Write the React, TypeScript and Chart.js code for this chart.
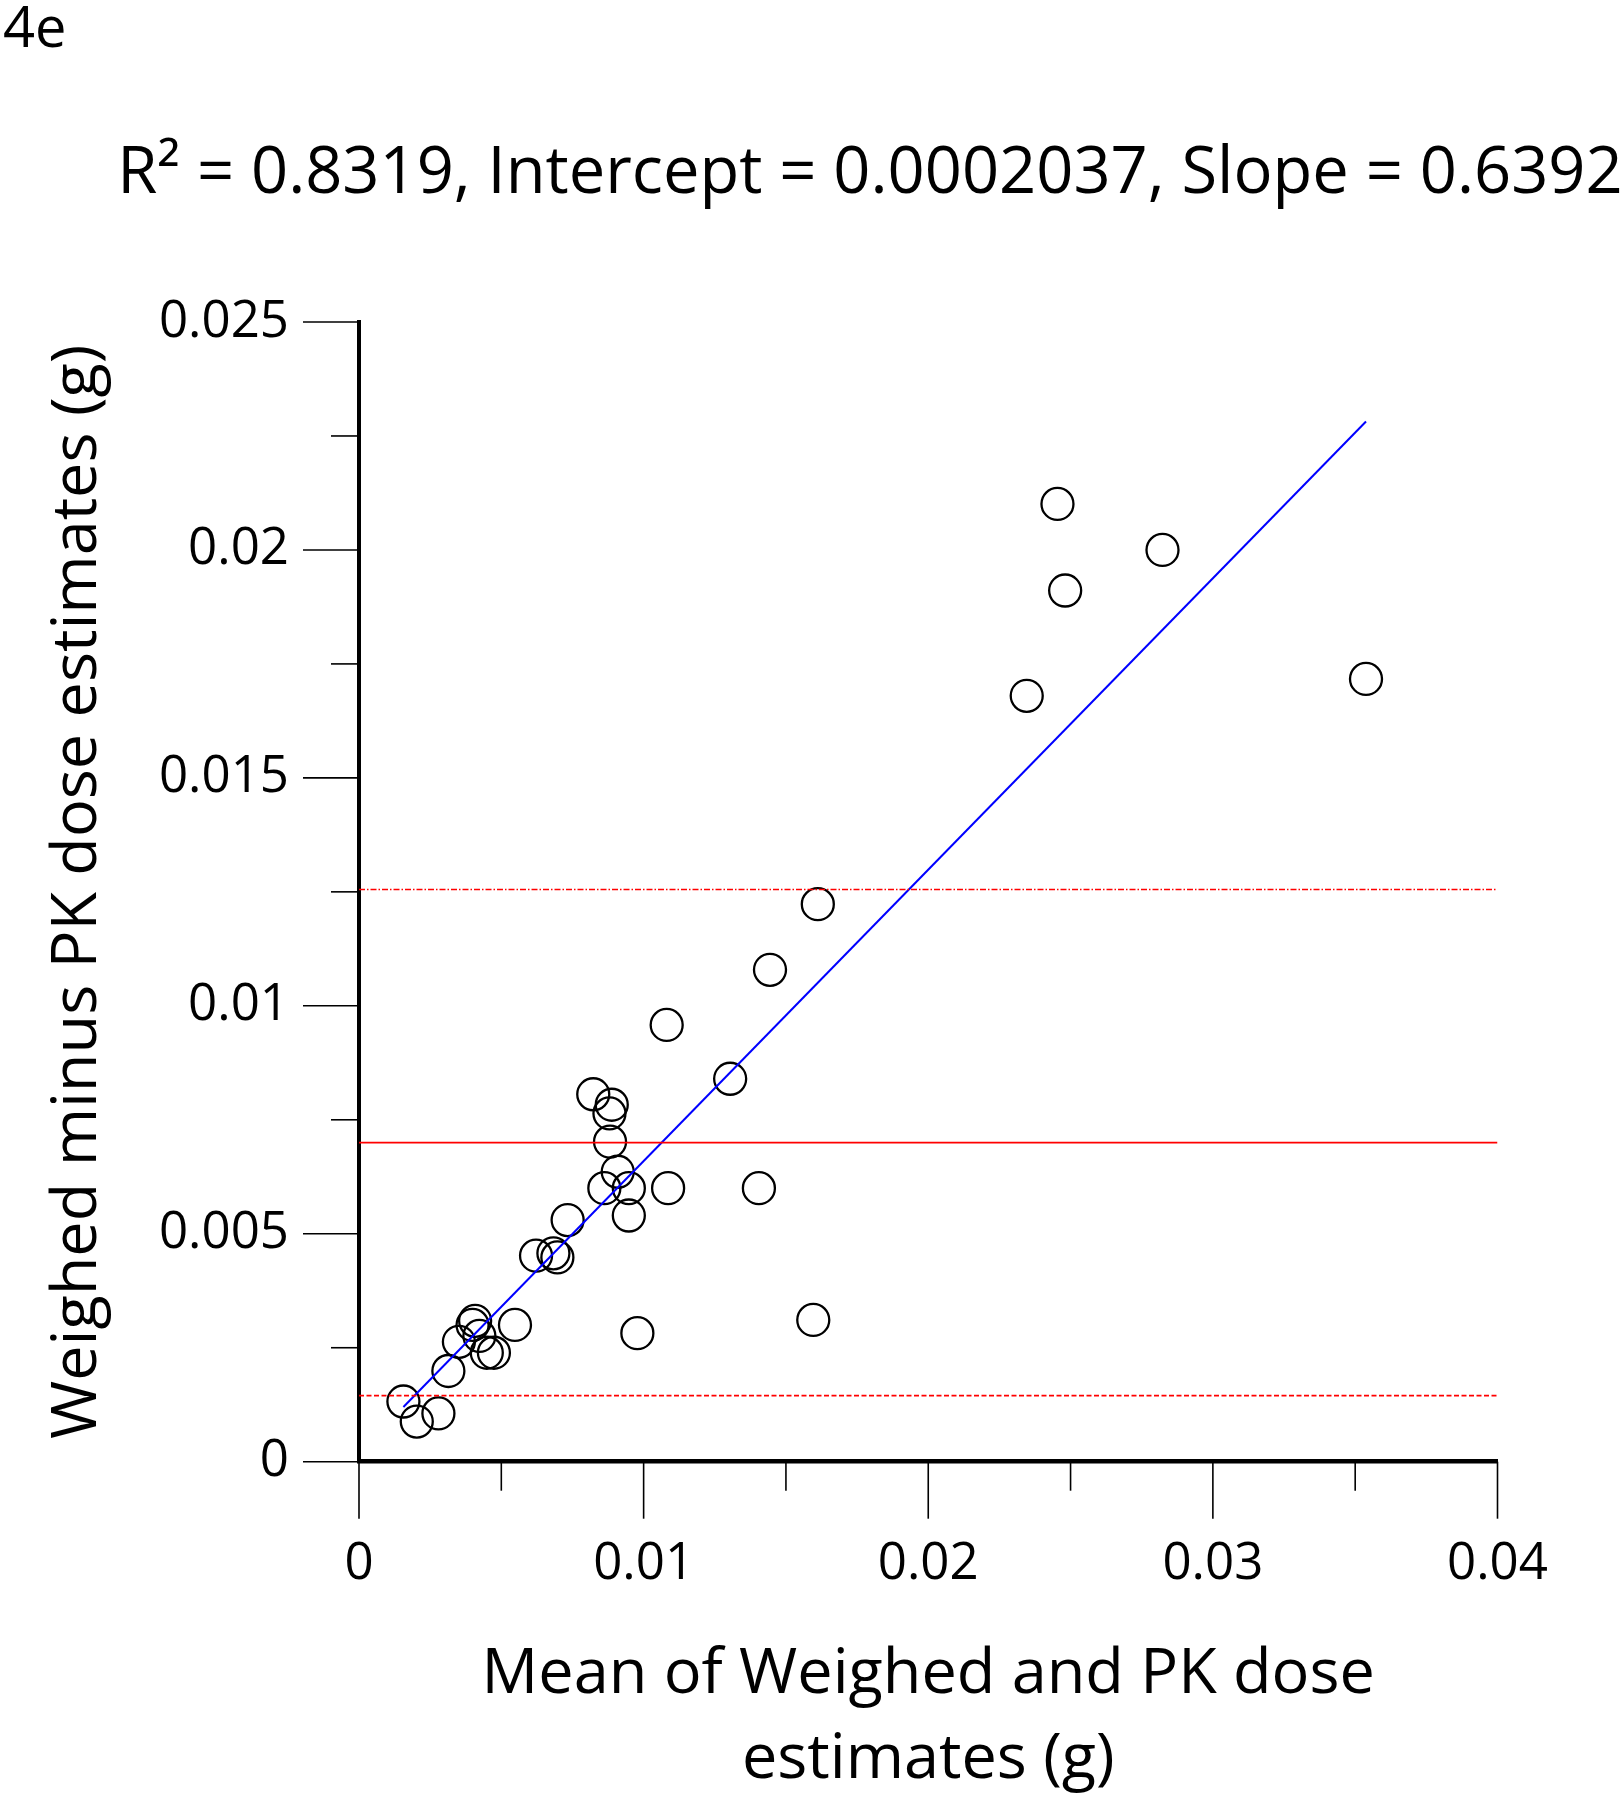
import React, { useEffect, useRef } from "react";
import { Chart, registerables } from "chart.js";

Chart.register(...registerables);

// ---------- text ----------
const PANEL_LABEL = "4e";
const CHART_TITLE = "R² = 0.8319, Intercept = 0.0002037, Slope = 0.6392";
const X_TITLE = ["Mean of Weighed and PK dose", "estimates (g)"];
const Y_TITLE = "Weighed minus PK dose estimates (g)";

// ---------- data (g) ----------
const meanDose = [
  0.02454, 0.02823, 0.02481, 0.02346, 0.03538, 0.01612, 0.01444,
  0.01081, 0.01304, 0.00823, 0.00888, 0.0088, 0.00882, 0.00909, 0.00862,
  0.00948, 0.01086, 0.01405, 0.00948, 0.00733, 0.00622, 0.00683, 0.00697,
  0.01596, 0.00978, 0.00548, 0.00408, 0.00399, 0.00423, 0.00351, 0.00449,
  0.00474, 0.00314, 0.00156, 0.00279, 0.00203,
];
const diffDose = [
  0.02101, 0.02, 0.01911, 0.0168, 0.01717, 0.01223, 0.01079,
  0.00958, 0.0084, 0.00806, 0.00783, 0.00764, 0.00702, 0.00636, 0.006,
  0.006, 0.006, 0.006, 0.0054, 0.0053, 0.00452, 0.00457, 0.00448,
  0.00311, 0.00282, 0.003, 0.00309, 0.003, 0.00276, 0.00263, 0.00239,
  0.00239, 0.00199, 0.00132, 0.00106, 0.00088,
];

// regression (from title)
const REG_INTERCEPT = 0.0002037;
const REG_SLOPE = 0.6392;

// Bland-Altman lines
const MEAN_DIFF = 0.007;
const UPPER_LIMIT = 0.01255;
const LOWER_LIMIT = 0.00145;

// axes
const X_MIN = 0;
const X_MAX = 0.04;
const X_MINOR_STEP = 0.005;
const X_LABEL_STEP = 0.01;
const Y_MIN = 0;
const Y_MAX = 0.025;
const Y_MINOR_STEP = 0.0025;
const Y_LABEL_STEP = 0.005;

const FONT = "'Open Sans', 'Noto Sans', sans-serif";

const isMultiple = (v: number, step: number) =>
  Math.abs(v / step - Math.round(v / step)) < 1e-6;
const fmt = (v: number) => String(Math.round(v * 10000) / 10000);

const decorPlugin = {
  id: "decor",
  afterDraw(chart: any) {
    const { ctx, chartArea, scales } = chart;
    const xs = scales.x;
    const ys = scales.y;
    ctx.save();
    ctx.strokeStyle = "#000";
    ctx.lineWidth = 1.6;
    xs.ticks.forEach((t: any) => {
      const px = xs.getPixelForValue(t.value);
      const len = isMultiple(t.value, X_LABEL_STEP) ? 57 : 29;
      ctx.beginPath();
      ctx.moveTo(px, chartArea.bottom);
      ctx.lineTo(px, chartArea.bottom + len);
      ctx.stroke();
    });
    ys.ticks.forEach((t: any) => {
      const py = ys.getPixelForValue(t.value);
      const len = isMultiple(t.value, Y_LABEL_STEP) ? 56 : 28;
      ctx.beginPath();
      ctx.moveTo(chartArea.left - len, py);
      ctx.lineTo(chartArea.left, py);
      ctx.stroke();
    });
    // panel label and title
    ctx.fillStyle = "#000";
    ctx.textBaseline = "alphabetic";
    ctx.textAlign = "left";
    ctx.font = `56px ${FONT}`;
    ctx.fillText(PANEL_LABEL, 3, 47);
    ctx.textAlign = "center";
    ctx.font = `65px ${FONT}`;
    ctx.fillText(CHART_TITLE, 870, 193);
    ctx.restore();
  },
};

export default function App() {
  const ref = useRef<HTMLCanvasElement | null>(null);

  useEffect(() => {
    if (!ref.current) return;
    const points = meanDose.map((x, i) => ({ x, y: diffDose[i] }));
    const regX0 = Math.min(...meanDose);
    const regX1 = Math.max(...meanDose);
    const hLine = (y: number) => [
      { x: X_MIN, y },
      { x: X_MAX, y },
    ];

    const chart = new Chart(ref.current, {
      type: "scatter",
      data: {
        datasets: [
          {
            type: "line",
            label: "Mean difference",
            data: hLine(MEAN_DIFF),
            borderColor: "#ff0000",
            borderWidth: 1.8,
            pointRadius: 0,
            fill: false,
          } as any,
          {
            type: "line",
            label: "Upper limit",
            data: hLine(UPPER_LIMIT),
            borderColor: "#ff0000",
            borderWidth: 1.6,
            borderDash: [6, 2, 1.5, 2],
            pointRadius: 0,
            fill: false,
          } as any,
          {
            type: "line",
            label: "Lower limit",
            data: hLine(LOWER_LIMIT),
            borderColor: "#ff0000",
            borderWidth: 1.8,
            borderDash: [5, 2.5],
            pointRadius: 0,
            fill: false,
          } as any,
          {
            type: "line",
            label: "Regression",
            data: [
              { x: regX0, y: REG_INTERCEPT + REG_SLOPE * regX0 },
              { x: regX1, y: REG_INTERCEPT + REG_SLOPE * regX1 },
            ],
            borderColor: "#0000ff",
            borderWidth: 2,
            pointRadius: 0,
            fill: false,
          } as any,
          {
            type: "scatter",
            label: "Subjects",
            data: points,
            pointRadius: 16,
            pointBorderWidth: 2.3,
            pointBorderColor: "#000",
            pointBackgroundColor: "rgba(0,0,0,0)",
          } as any,
        ],
      },
      options: {
        responsive: false,
        animation: false,
        devicePixelRatio: 1,
        layout: { padding: { left: 0, right: 126.5, top: 322, bottom: 0 } },
        plugins: {
          legend: { display: false },
          tooltip: { enabled: false },
          title: { display: false },
        },
        scales: {
          x: {
            type: "linear",
            position: "bottom",
            min: X_MIN,
            max: X_MAX,
            afterBuildTicks: (s: any) => {
              const arr = [];
              for (let v = X_MIN; v <= X_MAX + 1e-9; v += X_MINOR_STEP) arr.push({ value: Math.round(v * 1e6) / 1e6 });
              s.ticks = arr;
            },
            ticks: {
              callback: (v: any) => (isMultiple(Number(v), X_LABEL_STEP) ? fmt(Number(v)) : ""),
              font: { family: FONT, size: 51 },
              color: "#000",
              padding: 72,
              maxRotation: 0,
              autoSkip: false,
            },
            grid: { display: false, drawTicks: false },
            border: { display: true, color: "#000", width: 4.5 },
            title: {
              display: true,
              text: X_TITLE,
              color: "#000",
              font: { family: FONT, size: 63, lineHeight: 1.35 },
              padding: { top: 0, bottom: -3 },
            },
            afterFit: (s: any) => {
              s.height = 338.3;
            },
          },
          y: {
            type: "linear",
            min: Y_MIN,
            max: Y_MAX,
            afterBuildTicks: (s: any) => {
              const arr = [];
              for (let v = Y_MIN; v <= Y_MAX + 1e-9; v += Y_MINOR_STEP) arr.push({ value: Math.round(v * 1e6) / 1e6 });
              s.ticks = arr;
            },
            ticks: {
              callback: (v: any) => (isMultiple(Number(v), Y_LABEL_STEP) ? fmt(Number(v)) : ""),
              font: { family: FONT, size: 51 },
              color: "#000",
              padding: 70,
              autoSkip: false,
            },
            grid: { display: false, drawTicks: false },
            border: { display: true, color: "#000", width: 4 },
            title: {
              display: true,
              text: Y_TITLE,
              color: "#000",
              font: { family: FONT, size: 63, lineHeight: 1.2 },
              padding: { top: 40, bottom: 0 },
            },
            afterFit: (s: any) => {
              s.width = 359;
            },
          },
        },
      } as any,
      plugins: [decorPlugin],
    });
    return () => chart.destroy();
  }, []);

  return (
    <div style={{ position: "absolute", left: 0, top: 0, width: 1624, height: 1800, background: "#fff" }}>
      <canvas ref={ref} width={1624} height={1800} style={{ display: "block", width: 1624, height: 1800 }} />
    </div>
  );
}
